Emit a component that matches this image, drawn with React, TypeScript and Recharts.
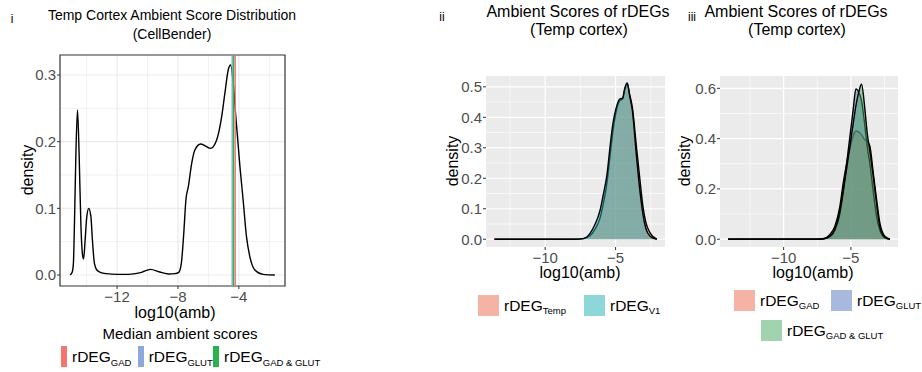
import React from "react";
import {
  ComposedChart,
  Line,
  Area,
  XAxis,
  YAxis,
  CartesianGrid,
  ReferenceLine,
  ReferenceArea,
} from "recharts";

const FONT = "'Liberation Sans', Arial, Helvetica, sans-serif";

// panel i: density of log10 ambient score (CellBender)
const ambX = [
  -15.08, -14.95, -14.87, -14.8, -14.71, -14.6, -14.49, -14.38, -14.27, -14.2,
  -14.1, -13.99, -13.86, -13.72, -13.62, -13.49, -13.33, -13.1, -12.7, -12.0,
  -11.3, -10.8, -10.4, -9.8, -9.2, -8.6, -8.2, -7.95, -7.78, -7.62,
  -7.48, -7.32, -7.1, -6.89, -6.51, -5.86, -5.46, -5.13, -4.92, -4.7,
  -4.54, -4.37, -4.2, -3.93, -3.72, -3.5, -3.28, -2.95, -2.41, -1.64,
];
const ambDensity = [
  0, 0.004, 0.0175, 0.0775, 0.1775, 0.2475, 0.1775, 0.0775, 0.03, 0.024,
  0.0525, 0.0875, 0.1, 0.0875, 0.0525, 0.0175, 0.0075, 0.004, 0.002, 0.001,
  0.001, 0.002, 0.004, 0.0085, 0.0045, 0.0015, 0.002, 0.004, 0.0175, 0.0625,
  0.1125, 0.1325, 0.1675, 0.1875, 0.1965, 0.19, 0.2025, 0.2375, 0.2725, 0.3075,
  0.315, 0.2875, 0.2375, 0.1625, 0.1125, 0.0575, 0.0275, 0.0075, 0.001, 0,
];
const medianGroups = ["GAD", "GLUT", "GAD & GLUT"];
const medianValues = [-4.24, -4.44, -4.35];
const medianColors = ["#F4756B", "#8DA8D9", "#2BB24C"];

// panel ii: rDEGs Temp vs V1
const rdegX = [
  -13.6, -8.0, -7.3, -6.8, -6.5, -6.1, -5.9, -5.6, -5.4, -5.2, -4.9, -4.7,
  -4.5, -4.35, -4.17, -4.0, -3.8, -3.55, -3.3, -3.05, -2.85, -2.55, -2.07,
];
const tempDensity = [
  0, 0, 0.002, 0.012, 0.03, 0.07, 0.11, 0.19, 0.27, 0.35, 0.43, 0.455,
  0.46, 0.49, 0.51, 0.475, 0.43, 0.318, 0.208, 0.105, 0.055, 0.021, 0,
];
const v1Density = [
  0, 0, 0.002, 0.02, 0.045, 0.095, 0.14, 0.215, 0.3, 0.375, 0.44, 0.46,
  0.463, 0.495, 0.513, 0.47, 0.42, 0.29, 0.17, 0.08, 0.035, 0.01, 0,
];

// panel iii: rDEGs by cell class
const cellX = [
  -14.13, -7.5, -7.0, -6.56, -6.19, -5.82, -5.57, -5.32, -5.07, -4.83, -4.63,
  -4.38, -4.21, -3.96, -3.79, -3.59, -3.34, -3.09, -2.85, -2.48, -2.1,
];
const gadDensity = [
  0, 0, 0.003, 0.019, 0.052, 0.131, 0.224, 0.3, 0.36, 0.41, 0.43,
  0.425, 0.415, 0.395, 0.39, 0.37, 0.264, 0.158, 0.065, 0.012, 0,
];
const glutDensity = [
  0, 0, 0.002, 0.01, 0.035, 0.1, 0.19, 0.3, 0.41, 0.516, 0.598,
  0.58, 0.55, 0.45, 0.37, 0.3, 0.19, 0.09, 0.035, 0.005, 0,
];
const bothDensity = [
  0, 0, 0.002, 0.012, 0.04, 0.11, 0.19, 0.28, 0.37, 0.46, 0.53,
  0.593, 0.616, 0.516, 0.423, 0.35, 0.25, 0.14, 0.05, 0.008, 0,
];

const RED = "#E9674B";
const TEAL = "#1BAFB2";
const BLUE = "#5373BB";
const GREEN = "#45A860";

const tickStyle = { fill: "#4D4D4D", fontSize: 15, fontFamily: FONT };
const minus = (v: number) => String(v).replace("-", "\u2212");
const oneDec = (v: number) => v.toFixed(1);

function Txt({ x, y, size, children, rotate = 0 }: any) {
  return (
    <div
      style={{
        position: "absolute",
        left: x,
        top: y,
        fontSize: size,
        lineHeight: 1,
        whiteSpace: "nowrap",
        transform: `translate(-50%, -50%) rotate(${rotate}deg)`,
      }}
    >
      {children}
    </div>
  );
}

function Rdeg({ sub, drop = 3 }: { sub: string; drop?: number }) {
  return (
    <span style={{ fontSize: 15.5, whiteSpace: "nowrap" }}>
      rDEG
      <span style={{ fontSize: 9.5, position: "relative", top: drop }}>{sub}</span>
    </span>
  );
}

function PanelI() {
  const data = ambX.map((x, i) => ({ x, y: ambDensity[i] }));
  return (
    <ComposedChart
      width={300}
      height={290}
      data={data}
      margin={{ top: 15, right: 15, bottom: 0, left: 20 }}
    >
      <CartesianGrid
        fill="#FFFFFF"
        stroke="#EBEBEB"
        strokeWidth={0.7}
        horizontalValues={[0.05, 0.15, 0.25]}
        verticalValues={[-14, -10, -6, -2]}
      />
      <CartesianGrid
        stroke="#EBEBEB"
        strokeWidth={1.2}
        horizontalValues={[0, 0.1, 0.2, 0.3]}
        verticalValues={[-12, -8, -4]}
      />
      <XAxis
        type="number"
        dataKey="x"
        domain={[-15.75, -0.97]}
        ticks={[-12, -8, -4]}
        allowDataOverflow
        interval={0}
        axisLine={false}
        tickLine={{ stroke: "#333333" }}
        tickSize={3}
        tickMargin={2}
        tick={tickStyle}
        tickFormatter={minus}
        height={44}
      />
      <YAxis
        type="number"
        domain={[-0.0165, 0.33]}
        ticks={[0, 0.1, 0.2, 0.3]}
        allowDataOverflow
        interval={0}
        axisLine={false}
        tickLine={{ stroke: "#333333" }}
        tickSize={3}
        tickMargin={1}
        tick={tickStyle}
        tickFormatter={oneDec}
        width={40}
      />
      <Line
        dataKey="y"
        type="monotone"
        stroke="#000000"
        strokeWidth={1.4}
        dot={false}
        isAnimationActive={false}
      />
      {medianValues.map((v, i) => (
        <ReferenceLine key={i} x={v} stroke={medianColors[i]} strokeWidth={1.4} />
      ))}
      <ReferenceArea
        x1={-15.75}
        x2={-0.97}
        y1={-0.0165}
        y2={0.33}
        fill="none"
        stroke="#333333"
        strokeWidth={1.2}
        ifOverflow="visible"
      />
    </ComposedChart>
  );
}

function PanelII() {
  const data = rdegX.map((x, i) => ({ x, temp: tempDensity[i], v1: v1Density[i] }));
  return (
    <ComposedChart
      width={250}
      height={211}
      data={data}
      margin={{ top: 16, right: 15, bottom: 0, left: 16 }}
    >
      <CartesianGrid
        fill="#EBEBEB"
        stroke="#FFFFFF"
        strokeWidth={0.6}
        horizontalValues={[0.05, 0.15, 0.25, 0.35, 0.45]}
        verticalValues={[-12.5, -7.5, -2.5]}
      />
      <CartesianGrid
        stroke="#FFFFFF"
        strokeWidth={1.2}
        horizontalValues={[0, 0.1, 0.2, 0.3, 0.4, 0.5]}
        verticalValues={[-10, -5]}
      />
      <XAxis
        type="number"
        dataKey="x"
        domain={[-14.2, -1.49]}
        ticks={[-10, -5]}
        allowDataOverflow
        interval={0}
        axisLine={false}
        tickLine={{ stroke: "#333333" }}
        tickSize={3}
        tickMargin={2}
        tick={tickStyle}
        tickFormatter={minus}
        height={24}
      />
      <YAxis
        type="number"
        domain={[-0.0255, 0.5355]}
        ticks={[0, 0.1, 0.2, 0.3, 0.4, 0.5]}
        allowDataOverflow
        interval={0}
        axisLine={false}
        tickLine={{ stroke: "#333333" }}
        tickSize={3}
        tickMargin={1}
        tick={tickStyle}
        tickFormatter={oneDec}
        width={40}
      />
      <Area
        dataKey="temp"
        type="monotone"
        baseValue={0}
        fill={RED}
        fillOpacity={0.5}
        stroke="#000000"
        strokeWidth={1.4}
        isAnimationActive={false}
      />
      <Area
        dataKey="v1"
        type="monotone"
        baseValue={0}
        fill={TEAL}
        fillOpacity={0.5}
        stroke="#000000"
        strokeWidth={1.4}
        isAnimationActive={false}
      />
    </ComposedChart>
  );
}

function PanelIII() {
  const data = cellX.map((x, i) => ({
    x,
    gad: gadDensity[i],
    glut: glutDensity[i],
    both: bothDensity[i],
  }));
  return (
    <ComposedChart
      width={230}
      height={211}
      data={data}
      margin={{ top: 16, right: 12, bottom: 0, left: 0 }}
    >
      <CartesianGrid
        fill="#EBEBEB"
        stroke="#FFFFFF"
        strokeWidth={0.6}
        horizontalValues={[0.1, 0.3, 0.5]}
        verticalValues={[-12.5, -7.5, -2.5]}
      />
      <CartesianGrid
        stroke="#FFFFFF"
        strokeWidth={1.2}
        horizontalValues={[0, 0.2, 0.4, 0.6]}
        verticalValues={[-10, -5]}
      />
      <XAxis
        type="number"
        dataKey="x"
        domain={[-14.73, -1.5]}
        ticks={[-10, -5]}
        allowDataOverflow
        interval={0}
        axisLine={false}
        tickLine={{ stroke: "#333333" }}
        tickSize={3}
        tickMargin={2}
        tick={tickStyle}
        tickFormatter={minus}
        height={24}
      />
      <YAxis
        type="number"
        domain={[-0.031, 0.649]}
        ticks={[0, 0.2, 0.4, 0.6]}
        allowDataOverflow
        interval={0}
        axisLine={false}
        tickLine={{ stroke: "#333333" }}
        tickSize={3}
        tickMargin={1}
        tick={tickStyle}
        tickFormatter={oneDec}
        width={40}
      />
      <Area dataKey="gad" type="monotone" baseValue={0} fill={RED} fillOpacity={0.5}
        stroke="#000000" strokeWidth={1.4} isAnimationActive={false} />
      <Area dataKey="glut" type="monotone" baseValue={0} fill={BLUE} fillOpacity={0.5}
        stroke="#000000" strokeWidth={1.4} isAnimationActive={false} />
      <Area dataKey="both" type="monotone" baseValue={0} fill={GREEN} fillOpacity={0.5}
        stroke="#000000" strokeWidth={1.4} isAnimationActive={false} />
    </ComposedChart>
  );
}

function Swatch({ x, y, color, label }: any) {
  return (
    <div style={{ position: "absolute", left: x, top: y, display: "flex", alignItems: "center" }}>
      <div style={{ width: 21, height: 21, background: color, opacity: 0.5, marginRight: 5 }} />
      <Rdeg sub={label} />
    </div>
  );
}

export default function App() {
  const legendBarX = [61, 137.7, 213];
  return (
    <div
      style={{
        position: "absolute",
        left: 0,
        top: 0,
        width: 922,
        height: 372,
        background: "#FFFFFF",
        fontFamily: FONT,
        color: "#000000",
        overflow: "hidden",
      }}
    >
      {/* panel i */}
      <Txt x={12} y={19} size={12}>i</Txt>
      <Txt x={172} y={14.5} size={14}>Temp Cortex Ambient Score Distribution</Txt>
      <Txt x={172} y={33.5} size={14}>(CellBender)</Txt>
      <Txt x={28} y={170} size={16} rotate={-90}>density</Txt>
      <div style={{ position: "absolute", left: 0, top: 40 }}>
        <PanelI />
      </div>
      <Txt x={175} y={313} size={16}>log10(amb)</Txt>
      <Txt x={180} y={333} size={15}>Median ambient scores</Txt>
      {medianGroups.map((g, i) => (
        <div
          key={g}
          style={{ position: "absolute", left: legendBarX[i], top: 346, display: "flex", alignItems: "center" }}
        >
          <div style={{ width: 6, height: 21, background: medianColors[i], marginRight: 5 }} />
          <Rdeg sub={g} drop={4} />
        </div>
      ))}

      {/* panel ii */}
      <Txt x={442} y={17} size={12}>ii</Txt>
      <Txt x={578} y={12} size={16}>Ambient Scores of rDEGs</Txt>
      <Txt x={579} y={30} size={16}>(Temp cortex)</Txt>
      <Txt x={453} y={161} size={16} rotate={-90}>density</Txt>
      <div style={{ position: "absolute", left: 430, top: 60 }}>
        <PanelII />
      </div>
      <Txt x={580} y={273} size={16}>log10(amb)</Txt>
      <Swatch x={478} y={295} color={RED} label="Temp" />
      <Swatch x={584} y={295} color={TEAL} label="V1" />

      {/* panel iii */}
      <Txt x={692} y={17} size={12}>iii</Txt>
      <Txt x={796} y={12} size={16}>Ambient Scores of rDEGs</Txt>
      <Txt x={797} y={30} size={16}>(Temp cortex)</Txt>
      <Txt x={685} y={161} size={16} rotate={-90}>density</Txt>
      <div style={{ position: "absolute", left: 680, top: 60 }}>
        <PanelIII />
      </div>
      <Txt x={813} y={273} size={16}>log10(amb)</Txt>
      <Swatch x={734} y={290} color={RED} label="GAD" />
      <Swatch x={831} y={290} color={BLUE} label="GLUT" />
      <Swatch x={761} y={320} color={GREEN} label="GAD & GLUT" />
    </div>
  );
}
